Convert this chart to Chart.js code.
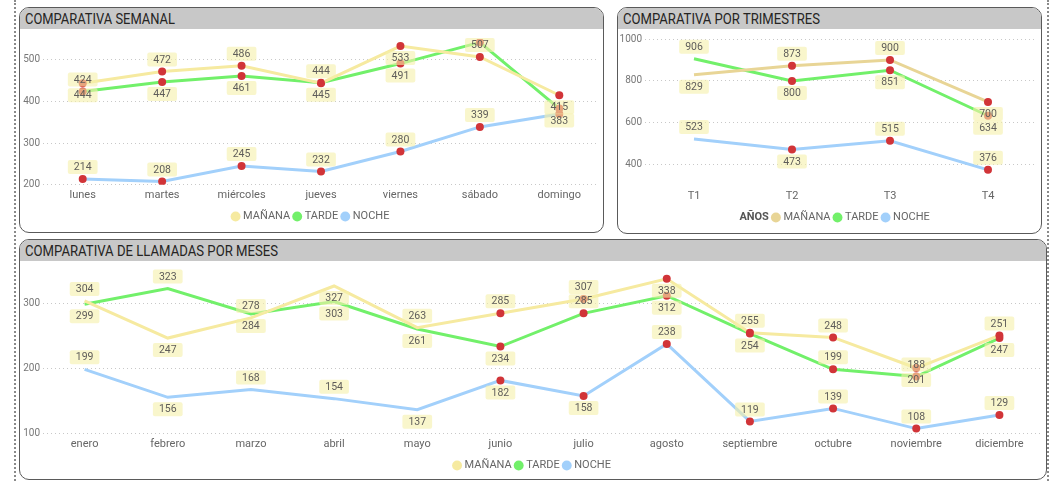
<!DOCTYPE html>
<html lang="es">
<head>
<meta charset="utf-8">
<title>Comparativas de llamadas</title>
<script src="https://cdn.jsdelivr.net/npm/chart.js@4.4.1/dist/chart.umd.min.js"></script>
<style>
  html, body { margin: 0; padding: 0; background: #fff; }
  body { width: 1055px; height: 481px; position: relative; overflow: hidden; font-family: Roboto, sans-serif; }
  #marco { position: absolute; left: 14px; top: 0; width: 1031px; height: 481px; border-left: 2px dotted #8a8a8a; border-right: 2px dotted #8a8a8a; }
  .panel { position: absolute; box-sizing: border-box; border: 1.5px solid #5a5a5a; border-radius: 10px; background: #fff; overflow: hidden; }
  .cab { height: 21px; background: #c8c8c8; padding-left: 5px; line-height: 22px; font-size: 14px; font-weight: 400; color: #252423; white-space: nowrap; }
  .cab span { display: inline-block; transform-origin: left center; }
  canvas { position: absolute; }
</style>
</head>
<body>
<div id="marco"></div>
<div class="panel" style="left:19px;top:7px;width:585px;height:226px"><div class="cab"><span data-w="150">COMPARATIVA SEMANAL</span></div></div>
<div class="panel" style="left:617px;top:7px;width:425px;height:227px"><div class="cab"><span data-w="197">COMPARATIVA POR TRIMESTRES</span></div></div>
<div class="panel" style="left:19px;top:239px;width:1028px;height:241px"><div class="cab"><span data-w="253">COMPARATIVA DE LLAMADAS POR MESES</span></div></div>
<canvas id="cSem" width="582" height="202" style="left:21px;top:30px"></canvas>
<canvas id="cTri" width="422" height="203" style="left:619px;top:30px"></canvas>
<canvas id="cMes" width="1024" height="219" style="left:21px;top:262px"></canvas>
<script>
const turnos = ["MAÑANA", "TARDE", "NOCHE"];

const dias = ["lunes", "martes", "miércoles", "jueves", "viernes", "sábado", "domingo"];
const semManana = [444, 472, 486, 444, 533, 507, 415];
const semTarde = [424, 447, 461, 445, 491, 542, 383];
const semNoche = [214, 208, 245, 232, 280, 339, 370];
const semTicks = [200, 300, 400, 500];

const trimestres = ["T1", "T2", "T3", "T4"];
const triManana = [829, 873, 900, 700];
const triTarde = [906, 800, 851, 634];
const triNoche = [523, 473, 515, 376];
const triTicks = [400, 600, 800, 1000];

const meses = ["enero", "febrero", "marzo", "abril", "mayo", "junio", "julio", "agosto", "septiembre", "octubre", "noviembre", "diciembre"];
const mesManana = [304, 247, 278, 327, 263, 285, 307, 338, 255, 248, 201, 251];
const mesTarde = [299, 323, 284, 303, 261, 234, 285, 312, 254, 199, 188, 247];
const mesNoche = [199, 156, 168, 154, 137, 182, 158, 238, 119, 139, 108, 129];
const mesTicks = [100, 200, 300];

// donde va cada etiqueta: a = arriba, b = abajo, - = oculta
const posSem = [
    ["b", "a", "a", "a", "b", "a", "b"],
    ["a", "b", "b", "b", "b", "-", "b"],
    ["a", "a", "a", "a", "a", "a", "-"]
];
const posTri = [
    ["b", "a", "a", "b"],
    ["a", "b", "b", "b"],
    ["a", "b", "a", "a"]
];
const posMes = [
    ["a", "b", "a", "b", "a", "a", "a", "b", "a", "a", "b", "a"],
    ["b", "a", "b", "b", "b", "b", "a", "b", "b", "a", "a", "b"],
    ["a", "b", "a", "a", "b", "b", "b", "a", "a", "a", "a", "a"]
];

Chart.defaults.font.family = "Roboto, sans-serif";

// etiquetas de datos estilo Power BI
const etiquetas = {
    id: "etiquetas",
    afterDatasetsDraw(chart) {
        const ctx = chart.ctx;
        ctx.save();
        ctx.font = "10.5px Roboto, sans-serif";
        ctx.textAlign = "center";
        ctx.textBaseline = "middle";
        chart.data.datasets.forEach((ds, i) => {
            const meta = chart.getDatasetMeta(i);
            meta.data.forEach((pt, j) => {
                const pos = ds.etiq[j];
                if (pos === "-") return;
                const y = pt.y + (pos === "a" ? -12 : 12);
                const txt = String(ds.data[j]);
                const w = ctx.measureText(txt).width + 12;
                const h = 14;
                ctx.fillStyle = "rgba(245,240,170,0.6)";
                ctx.beginPath();
                ctx.roundRect(pt.x - w / 2, y - h / 2, w, h, 2);
                ctx.fill();
                ctx.fillStyle = "#5f5d5a";
                ctx.fillText(txt, pt.x, y + 0.5);
            });
        });
        ctx.restore();
    }
};

// rotulo "AÑOS" delante de la leyenda de trimestres
const rotuloAnos = {
    id: "rotuloAnos",
    afterDraw(chart) {
        const hb = chart.legend.legendHitBoxes[0];
        const ctx = chart.ctx;
        ctx.save();
        ctx.font = "bold 11px Roboto, sans-serif";
        ctx.fillStyle = "#555";
        ctx.textAlign = "right";
        ctx.textBaseline = "middle";
        ctx.fillText("AÑOS", hb.left + hb.width, hb.top + hb.height / 2);
        ctx.restore();
    }
};

function grafico(id, cats, series, colores, desde, ticks, min, max, pos, cfg) {
    const datasets = series.map((s, i) => ({
        label: turnos[i],
        data: s,
        borderColor: colores[i],
        backgroundColor: colores[i],
        borderWidth: 3,
        tension: 0,
        fill: false,
        pointRadius: c => c.dataIndex >= desde ? 4 : 0,
        pointBackgroundColor: "#d13438",
        pointBorderWidth: 0,
        etiq: pos[i]
    }));
    const plugins = [etiquetas];
    if (cfg.anos) plugins.push(rotuloAnos);
    return new Chart(document.getElementById(id), {
        type: "line",
        data: { labels: cats, datasets: datasets },
        options: {
            responsive: false,
            animation: false,
            devicePixelRatio: 1,
            layout: { padding: { top: cfg.top, right: cfg.right, bottom: cfg.bottom, left: 0 } },
            plugins: {
                tooltip: { enabled: false },
                legend: {
                    position: "bottom",
                    labels: {
                        usePointStyle: true,
                        pointStyle: "circle",
                        boxWidth: 4,
                        boxHeight: 7,
                        padding: 5,
                        color: "#666",
                        font: { size: 11 },
                        generateLabels: chart => {
                            const items = Chart.defaults.plugins.legend.labels.generateLabels(chart);
                            items.forEach((it, k) => {
                                it.lineWidth = 0;
                                it.fillStyle = colores[k];
                                it.strokeStyle = colores[k];
                            });
                            if (cfg.anos) {
                                items.unshift({
                                    text: "AÑOS", fillStyle: "rgba(0,0,0,0)", strokeStyle: "rgba(0,0,0,0)",
                                    lineWidth: 0, pointStyle: "circle", fontColor: "rgba(0,0,0,0)", hidden: false
                                });
                            }
                            return items;
                        }
                    }
                }
            },
            scales: {
                x: {
                    offset: true,
                    grid: { display: false, drawTicks: false },
                    border: { display: false },
                    ticks: { padding: 4, color: "#666", font: { size: 11 }, autoSkip: false, maxRotation: 0 }
                },
                y: {
                    min: min,
                    max: max,
                    grid: { color: "#c8c8c8", drawTicks: false },
                    border: { display: false, dash: [1, 3] },
                    ticks: { padding: 3, color: "#777", font: { size: 10 }, callback: v => String(v) },
                    afterBuildTicks: sc => { sc.ticks = ticks.map(v => ({ value: v })); },
                    afterFit: sc => { sc.width = cfg.yWidth; }
                }
            }
        },
        plugins: plugins
    });
}

const amarillo = "#f6eaa0";
const verde = "#72f06a";
const azul = "#a2d0fb";

grafico("cSem", dias, [semManana, semTarde, semNoche], [amarillo, verde, azul], 0,
    semTicks, 200, 550, posSem, { top: 7, right: 1, bottom: 0, yWidth: 22 });
grafico("cTri", trimestres, [triManana, triTarde, triNoche], ["#e8d596", verde, azul], 1,
    triTicks, 300, 1000, posTri, { top: 8, right: 0, bottom: 0, yWidth: 26, anos: true });
grafico("cMes", meses, [mesManana, mesTarde, mesNoche], [amarillo, verde, azul], 5,
    mesTicks, 100, 350, posMes, { top: 7, right: 0, bottom: 0, yWidth: 22 });

// ajustar ancho de los titulos
document.querySelectorAll(".cab span").forEach(s => {
    const w = s.getBoundingClientRect().width;
    s.style.transform = "scaleX(" + (s.dataset.w / w) + ")";
});
</script>
</body>
</html>
